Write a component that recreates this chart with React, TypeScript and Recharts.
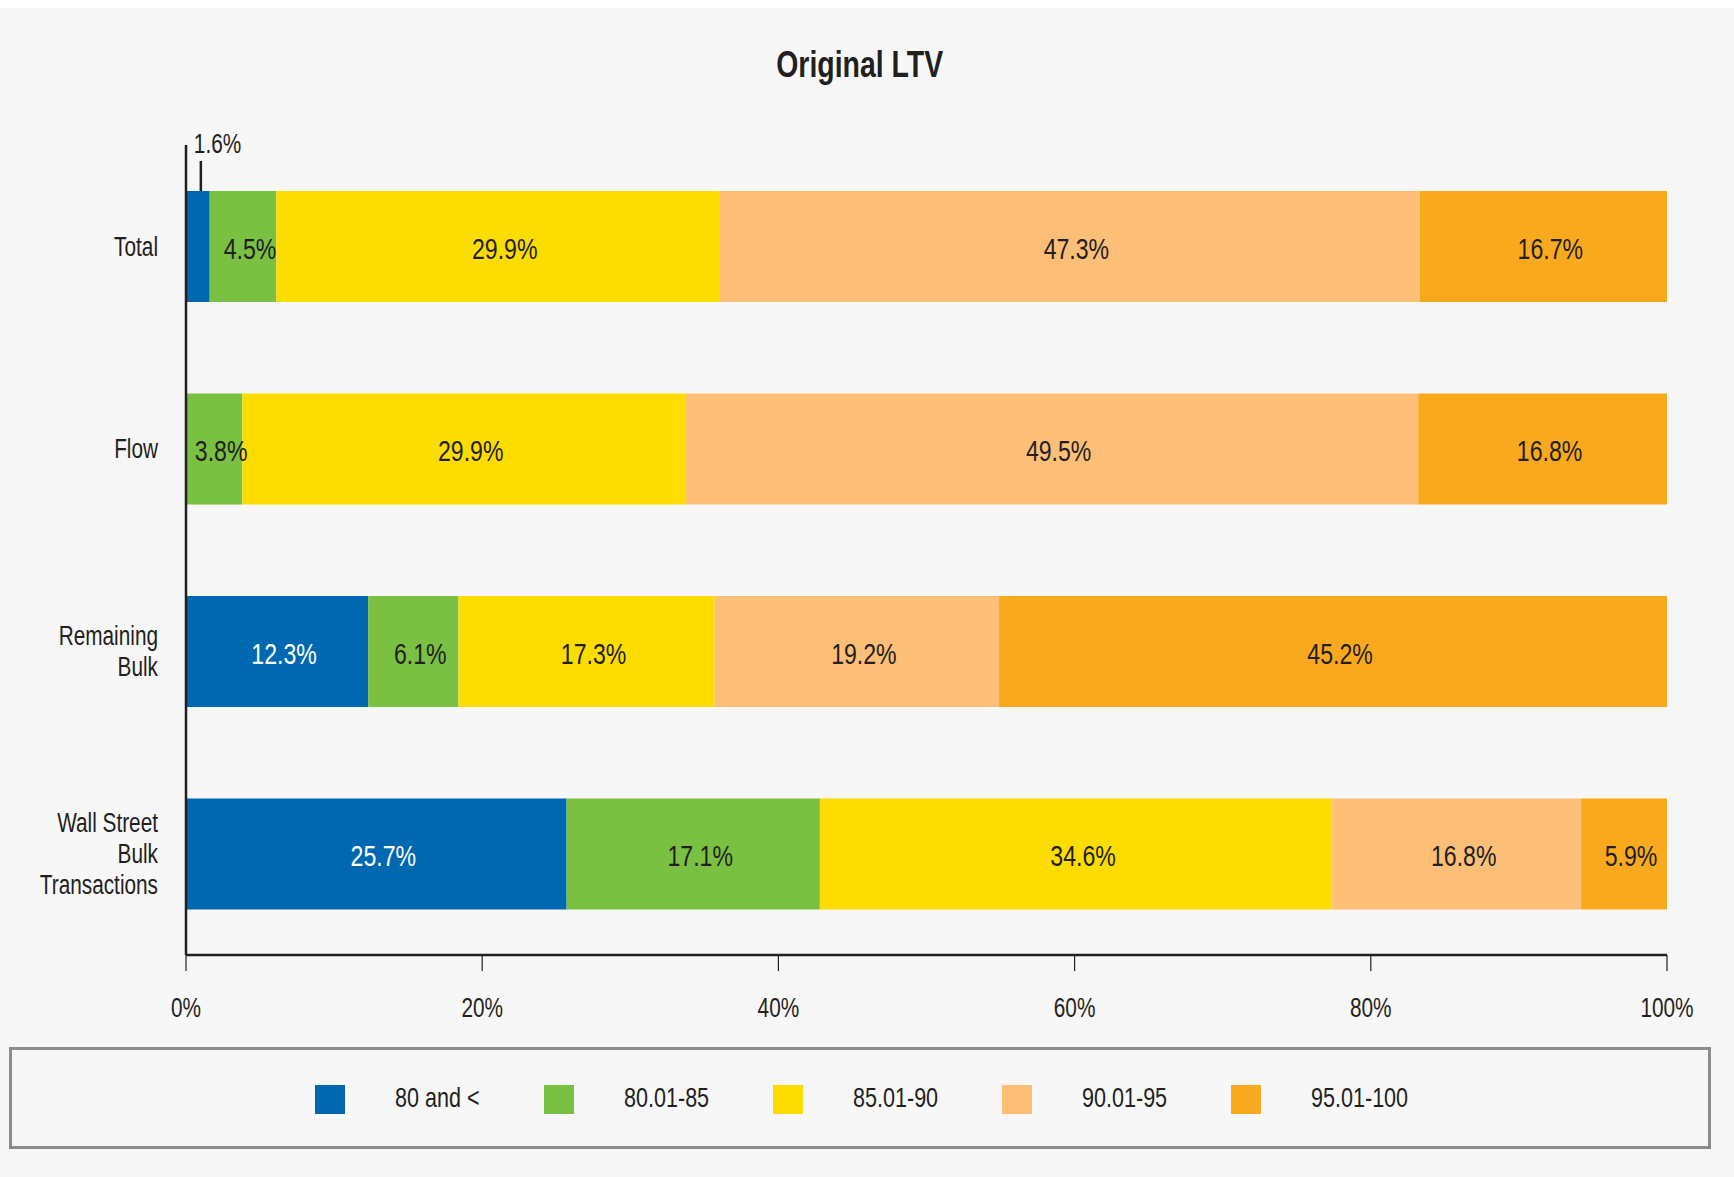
import React from 'react';
import { BarChart, Bar, XAxis, YAxis, LabelList, Legend } from 'recharts';

// Liberation Sans squeezed horizontally stands in for the condensed Helvetica of the original
const FONT = "'Liberation Sans', Arial, sans-serif";
const SX = 0.77;
const INK = '#231f20';

const categories = ['Total', 'Flow', 'Remaining\nBulk', 'Wall Street\nBulk\nTransactions'];
const seriesNames = ['80 and <', '80.01-85', '85.01-90', '90.01-95', '95.01-100'];
const seriesColors = ['#0067b1', '#7ac143', '#fddd00', '#fdbf78', '#f9a91d'];
const labelColors = ['#ffffff', INK, INK, INK, INK];

const ltv80 = [1.6, 0, 12.3, 25.7];
const ltv85 = [4.5, 3.8, 6.1, 17.1];
const ltv90 = [29.9, 29.9, 17.3, 34.6];
const ltv95 = [47.3, 49.5, 19.2, 16.8];
const ltv100 = [16.7, 16.8, 45.2, 5.9];
const seriesValues = [ltv80, ltv85, ltv90, ltv95, ltv100];

const xTicks = [0, 20, 40, 60, 80, 100];

const data = categories.map((name, i) => {
  const row: any = { name };
  seriesValues.forEach((vals, s) => {
    row['s' + s] = vals[i];
  });
  return row;
});

const NarrowText = ({ x, y, anchor = 'middle', size, fill = INK, children }: any) => (
  <text
    transform={`translate(${x},${y}) scale(${SX},1)`}
    textAnchor={anchor}
    dominantBaseline="central"
    fill={fill}
    fontSize={size}
    fontFamily={FONT}
  >
    {children}
  </text>
);

const CategoryTick = (props: any) => {
  const { x, y, payload } = props;
  const lines = String(payload.value).split('\n');
  return (
    <g>
      {lines.map((line, i) => (
        <NarrowText key={i} x={x} y={y + (i - (lines.length - 1) / 2) * 31} anchor="end" size={27}>
          {line}
        </NarrowText>
      ))}
    </g>
  );
};

const PercentTick = (props: any) => {
  const { x, y, payload } = props;
  return (
    <NarrowText x={x} y={y + 9} size={27}>
      {`${payload.value}%`}
    </NarrowText>
  );
};

const makeLabel = (s: number) => (props: any) => {
  const { x, y, width, height, value, index } = props;
  if (!value) return null;
  const txt = `${value.toFixed(1)}%`;
  // tiny slice: value sits above the bar with a leader line
  if (s === 0 && index === 0) {
    const cx = x + width / 2 + 3;
    return (
      <g>
        <line x1={cx} y1={y} x2={cx} y2={y - 30} stroke={INK} strokeWidth={2.5} />
        <NarrowText x={cx - 7} y={y - 48} anchor="start" size={27}>
          {txt}
        </NarrowText>
      </g>
    );
  }
  return (
    <NarrowText x={x + width / 2 + 7} y={y + height / 2 + 2} size={30} fill={labelColors[s]}>
      {txt}
    </NarrowText>
  );
};

const squeeze: React.CSSProperties = { display: 'inline-block', transform: `scaleX(${SX})`, transformOrigin: 'left center', whiteSpace: 'nowrap' };

const LegendBox = () => (
  <div
    style={{
      boxSizing: 'border-box',
      width: 1702,
      height: 102,
      border: '3px solid #8c8c8c',
      display: 'flex',
      alignItems: 'center',
      paddingLeft: 303,
      fontFamily: FONT,
      fontSize: 28,
      color: INK,
    }}
  >
    {seriesNames.map((n, i) => (
      <div key={n} style={{ display: 'flex', alignItems: 'center', width: 229 }}>
        <div style={{ width: 30, height: 29, background: seriesColors[i], marginRight: 50, marginTop: 3, flexShrink: 0 }} />
        <span style={squeeze}>{n}</span>
      </div>
    ))}
  </div>
);

const App: React.FC = () => {
  return (
    <div style={{ position: 'absolute', left: 0, top: 8, width: 1734, height: 1169, background: '#f7f7f7' }}>
      <div
        style={{
          position: 'absolute',
          left: 0,
          top: 38,
          width: 1720,
          textAlign: 'center',
          fontFamily: FONT,
          fontWeight: 'bold',
          fontSize: 36,
          lineHeight: '38px',
          color: INK,
        }}
      >
        <span style={{ display: 'inline-block', transform: 'scaleX(0.79)' }}>Original LTV</span>
      </div>
      <BarChart
        width={1734}
        height={1169}
        data={data}
        layout="vertical"
        margin={{ top: 137, right: 67, left: 0, bottom: 162 }}
      >
        <XAxis
          type="number"
          domain={[0, 100]}
          ticks={xTicks}
          allowDataOverflow
          height={60}
          axisLine={{ stroke: INK, strokeWidth: 2.5 }}
          tickLine={{ stroke: INK, strokeWidth: 1.2 }}
          tickSize={16}
          tickMargin={27}
          tick={<PercentTick />}
          interval={0}
        />
        <YAxis
          type="category"
          dataKey="name"
          width={186}
          axisLine={{ stroke: INK, strokeWidth: 2.5 }}
          tickLine={false}
          tickSize={0}
          tickMargin={28}
          tick={<CategoryTick />}
          interval={0}
        />
        <Legend
          layout="horizontal"
          verticalAlign="middle"
          align="center"
          wrapperStyle={{ left: 9, top: 1039, width: 1702, height: 102 }}
          content={() => <LegendBox />}
        />
        {seriesNames.map((n, s) => (
          <Bar key={n} dataKey={'s' + s} name={n} stackId="ltv" fill={seriesColors[s]} barSize={111} isAnimationActive={false}>
            <LabelList dataKey={'s' + s} content={makeLabel(s)} />
          </Bar>
        ))}
      </BarChart>
    </div>
  );
};

export default App;
